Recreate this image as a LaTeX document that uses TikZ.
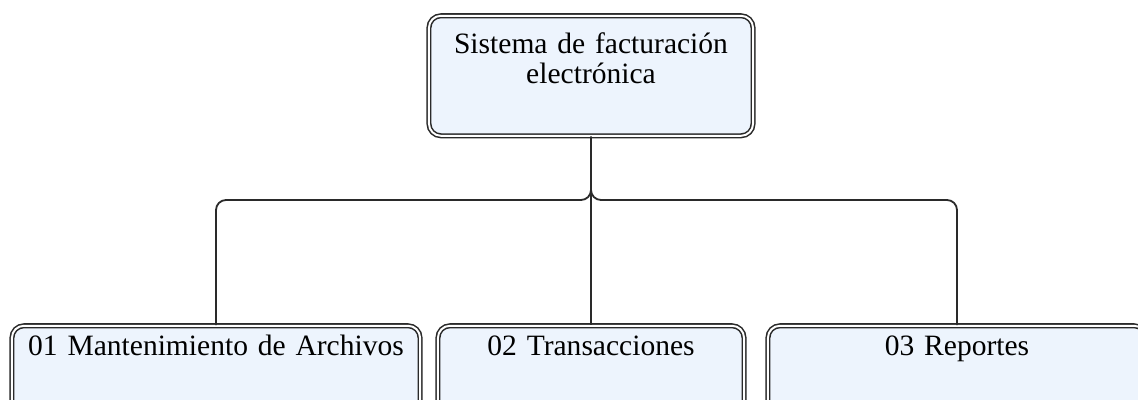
\documentclass[tikz,border=0pt]{standalone}
\usepackage{fontspec}
\setmainfont{Liberation Serif}
\definecolor{boxfill}{HTML}{EDF4FD}
\definecolor{boxline}{HTML}{2A2A2A}
\tikzset{
    menubox/.style={draw=boxline, line width=1.1pt, double=white, double distance=1.4pt,
        fill=boxfill, rounded corners=0.3cm, anchor=north, inner sep=0pt, align=center,
        font=\fontsize{21}{21}\selectfont},
    link/.style={draw=boxline, line width=1.3pt, rounded corners=0.25cm}
}
\begin{document}
\begin{tikzpicture}[x=0.025cm,y=-0.025cm]
    \clip (0,0) rectangle (1138,400);
    % raiz
    \node[menubox, text width=8.1cm, text height=0.95cm, text depth=2.05cm] (root) at (591,15)
        {Sistema de facturación\\electrónica};
    % modulos
    \node[menubox, text width=10.2cm, text height=0.75cm, text depth=2.25cm] (arch) at (216,325)
        {01 Mantenimiento de Archivos};
    \node[menubox, text width=7.65cm, text height=0.75cm, text depth=2.25cm] (trans) at (591,325)
        {02 Transacciones};
    \node[menubox, text width=9.45cm, text height=0.75cm, text depth=2.25cm] (rep) at (957,325)
        {03 Reportes};
    % conectores
    \coordinate (split) at (591,200);
    \draw[link] (root.south) |- (split -| arch.north) -- (arch.north);
    \draw[link] (root.south) -- (trans.north);
    \draw[link] (root.south) |- (split -| rep.north) -- (rep.north);
\end{tikzpicture}
\end{document}
